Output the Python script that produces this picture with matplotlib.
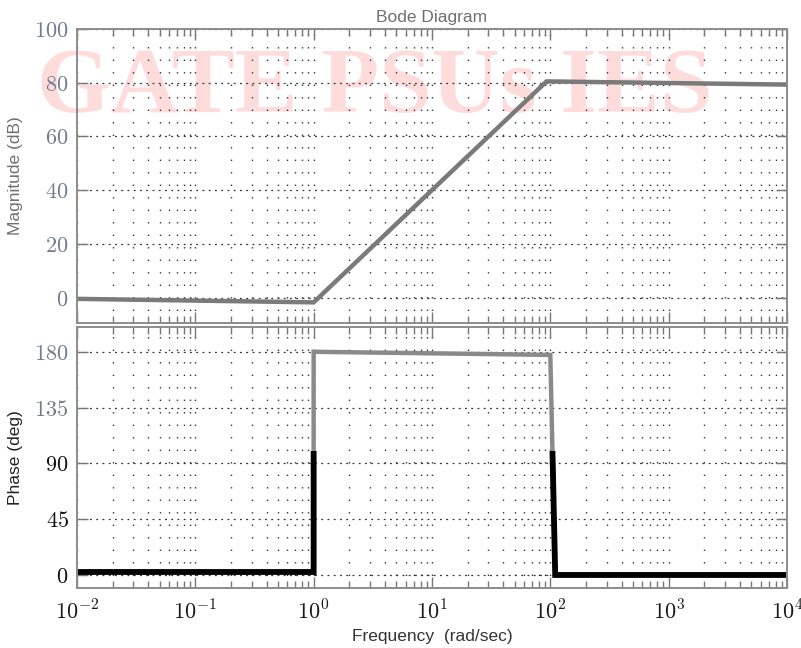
import numpy as np
import matplotlib.pyplot as plt
import matplotlib.ticker as mticker
import matplotlib.transforms as mtransforms
from matplotlib.patches import Rectangle

plt.rcParams['mathtext.fontset'] = 'cm'

# magnitude trace (dB)
mag_freq = [0.01, 1.0, 93.0, 10000.0]
mag_db = [-0.5, -1.8, 80.5, 79.3]

# phase trace (deg)
ph_freq = [0.01, 1.0, 1.0, 100.0, 110.0, 10000.0]
ph_deg = [2.4, 2.4, 180.0, 177.5, 0.0, 0.0]

mag_ticks = [0, 20, 40, 60, 80, 100]
ph_ticks = [0, 45, 90, 135, 180]
decades = [-2, -1, 0, 1, 2, 3, 4]

fig = plt.figure(figsize=(8.01, 6.48), dpi=100)
ax1 = fig.add_axes([0.0961, 0.5015, 0.8864, 0.4537])
ax2 = fig.add_axes([0.0961, 0.0926, 0.8864, 0.4028])

fig.text(0.468, 0.862, "GATE PSUs IES", fontsize=68, fontweight='bold',
         family='Liberation Serif', color='#ffdcdc', ha='center', va='center',
         zorder=-1)

for ax in (ax1, ax2):
    ax.set_facecolor('none')
    ax.set_xscale('log')
    ax.set_xlim(0.01, 10000)
    ax.xaxis.set_major_locator(mticker.LogLocator(base=10, numticks=20))
    ax.xaxis.set_minor_locator(mticker.LogLocator(base=10, subs=np.arange(2, 10), numticks=20))
    ax.grid(True, which='major', axis='y', linestyle=(0, (1.5, 3.5)), color='#333333', linewidth=0.9)
    ax.grid(True, which='both', axis='x', linestyle=(0, (1, 8)), color='#333333', linewidth=1.0)
    ax.tick_params(which='both', direction='in', top=True, right=True, color='#777777')
    ax.tick_params(which='major', length=8, width=1)
    ax.tick_params(which='minor', length=5, width=1)
    for s in ax.spines.values():
        s.set_color('#8c8c8c')
        s.set_linewidth(1.4)
    ax.set_axisbelow(True)

# magnitude
ax1.plot(mag_freq, mag_db, color='#7a7a7a', linewidth=3.2, solid_joinstyle='miter')
ax1.set_ylim(-9.5, 100)
ax1.set_yticks(mag_ticks)
ax1.set_yticklabels(['$%d$' % v for v in mag_ticks], fontsize=16, color='#6f7d8c')
ax1.tick_params(axis='y', pad=6)
ax1.tick_params(axis='x', labelbottom=False)
ax1.set_ylabel("Magnitude (dB)", family='Liberation Sans', fontsize=12.5,
               color='#707070', labelpad=8)
ax1.set_title("Bode Diagram", family='Liberation Sans', fontsize=12.5,
              color='#707070', pad=5)

# phase: grey line, black where below ~100 deg
ax2.plot(ph_freq, ph_deg, color='#8a8a8a', linewidth=3.2, solid_joinstyle='miter')
blk, = ax2.plot(ph_freq, ph_deg, color='black', linewidth=4.2, solid_joinstyle='miter')
trans = mtransforms.blended_transform_factory(ax2.transAxes, ax2.transData)
clip = Rectangle((0, -30), 1, 130, transform=trans)
blk.set_clip_path(clip)
ax2.set_ylim(-10.5, 200)
ax2.set_yticks(ph_ticks)
ax2.set_yticklabels(['$%d$' % v for v in ph_ticks], fontsize=16)
for lab, c in zip(ax2.get_yticklabels(), ['#111111', '#111111', '#111111', '#6f7d8c', '#6f7d8c']):
    lab.set_color(c)
ax2.tick_params(axis='y', pad=6)
ax2.set_xticks([10.0 ** d for d in decades])
ax2.set_xticklabels(['$10^{%d}$' % d for d in decades], fontsize=16, color='#1a1a1a')
ax2.tick_params(axis='x', pad=8)
ax2.set_ylabel("Phase (deg)", family='Liberation Sans', fontsize=12.5,
               color='#222222', labelpad=8)
ax2.set_xlabel("Frequency  (rad/sec)", family='Liberation Sans', fontsize=12.5,
               color='#333333', labelpad=4)

fig.savefig("out.png", dpi=100)
